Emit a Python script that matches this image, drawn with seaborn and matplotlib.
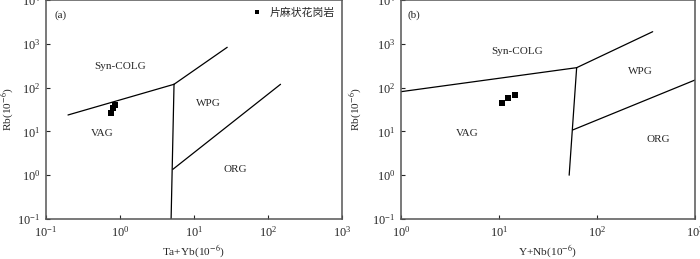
import matplotlib
matplotlib.use("Agg")
import numpy as np
import pandas as pd
import matplotlib.pyplot as plt
import seaborn as sns

# sample points (片麻状花岗岩)
ta_yb = [0.76, 0.82, 0.86]
rb_a = [26.9, 34.2, 40.0]
y_nb = [10.8, 12.3, 14.5]
rb_b = [45.2, 57.0, 67.8]

# boundaries, Rb vs Ta+Yb
a_vag_syn_x = [0.2, 5.4]
a_vag_syn_y = [23.7, 119]
a_upper_x = [5.4, 28.2]
a_upper_y = [119, 832]
a_vert_x = [5.4, 4.93]
a_vert_y = [119, 0.1]
a_wpg_org_x = [5.2, 148]
a_wpg_org_y = [1.36, 119]

# boundaries, Rb vs Y+Nb
b_vag_syn_x = [1, 62]
b_vag_syn_y = [80.7, 285]
b_upper_x = [62, 370]
b_upper_y = [285, 1890]
b_vert_x = [62, 52]
b_vert_y = [285, 1]
b_wpg_org_x = [56.6, 1000]
b_wpg_org_y = [10.8, 149]

sns.set_style("ticks")
plt.rcParams["font.family"] = ["Liberation Serif", "Noto Sans CJK SC", "DejaVu Sans"]
plt.rcParams["mathtext.fontset"] = "stix"
plt.rcParams["font.size"] = 7.8

fig = plt.figure(figsize=(7, 2.59), dpi=100)
ax1 = fig.add_axes([45.7 / 700, 40 / 259, 296.3 / 700, 219 / 259])
ax2 = fig.add_axes([401 / 700, 40 / 259, 294 / 700, 219 / 259])


def draw_lines(ax, segs):
    for xs, ys in segs:
        sns.lineplot(x=xs, y=ys, ax=ax, color="black", lw=0.9, sort=False, estimator=None)


draw_lines(ax1, [(a_vag_syn_x, a_vag_syn_y), (a_upper_x, a_upper_y),
                 (a_vert_x, a_vert_y), (a_wpg_org_x, a_wpg_org_y)])
draw_lines(ax2, [(b_vag_syn_x, b_vag_syn_y), (b_upper_x, b_upper_y),
                 (b_vert_x, b_vert_y), (b_wpg_org_x, b_wpg_org_y)])

df_a = pd.DataFrame({"x": ta_yb, "y": rb_a, "rock": "片麻状花岗岩"})
df_b = pd.DataFrame({"x": y_nb, "y": rb_b, "rock": "片麻状花岗岩"})
sns.scatterplot(data=df_a, x="x", y="y", hue="rock", palette=["black"], marker="s",
                s=18, edgecolor="none", ax=ax1)
sns.scatterplot(data=df_b, x="x", y="y", marker="s", color="black",
                s=18, edgecolor="none", ax=ax2, legend=False)

for ax, xlim, xlabel, ylx in [(ax1, (0.1, 1000), "Ta+Yb(10$^{-6}$)", -0.10),
                              (ax2, (1, 1000), "Y+Nb(10$^{-6}$)", -0.126)]:
    ax.set_xscale("log")
    ax.set_yscale("log")
    ax.set_xlim(*xlim)
    ax.set_ylim(0.1, 10000)
    ax.set_xlabel(xlabel, labelpad=3, fontsize=8.2)
    ax.set_ylabel("Rb(10$^{-6}$)", fontsize=8.2)
    ax.yaxis.set_label_coords(ylx, 0.5)
    ax.minorticks_off()
    ax.tick_params(direction="in", length=3, width=0.8, pad=4, labelsize=8.8)
    for s in ax.spines.values():
        s.set_color("#555555")
        s.set_linewidth(1.1)

ax1.legend(loc="upper right", frameon=False, handletextpad=0.1,
           borderaxespad=0.3, markerscale=0.8, fontsize=7.8, title=None)


def lab(x, y, t):
    # position given in figure pixels from the top-left corner
    fig.text(x / 700, 1 - y / 259, t, ha="center", va="center", fontsize=8)


lab(61, 15, "(a)")
lab(120, 67, "Syn-COLG")
lab(208, 103, "WPG")
lab(102, 133, "VAG")
lab(235, 169, "ORG")

lab(414, 15, "(b)")
lab(517, 52, "Syn-COLG")
lab(640, 72, "WPG")
lab(467, 133, "VAG")
lab(658, 140, "ORG")

fig.savefig("out.png", dpi=100)
